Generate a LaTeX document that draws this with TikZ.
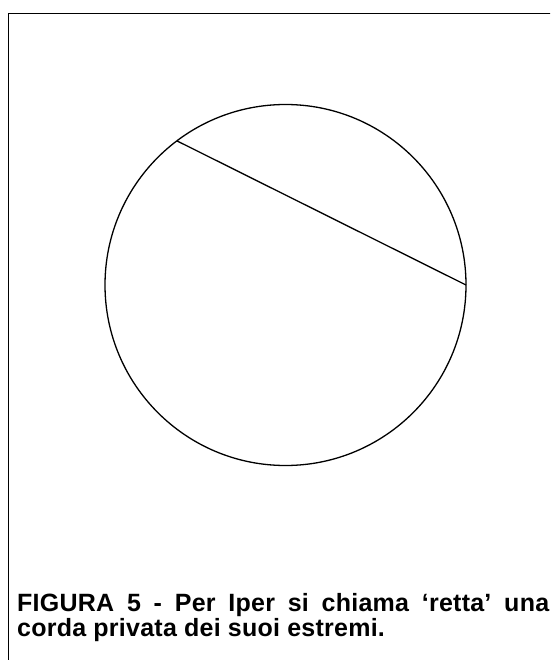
\documentclass[tikz,border=0pt]{standalone}
\usepackage{fontspec}
\setmainfont{Liberation Sans}
\newfontfamily\didfont[LetterSpace=1]{Liberation Sans}
\usepackage{tikz}
\usetikzlibrary{positioning,calc}

\tikzset{
  linea/.style={black,line width=1.3pt},
  didascalia/.style={font=\didfont\fontsize{25}{25}\selectfont\bfseries,inner sep=0pt,anchor=base west}
}

\begin{document}
\begin{tikzpicture}[x=1pt,y=-1pt]
    \useasboundingbox (0,0) rectangle (550,660);
    \begin{scope}
      \clip (0,0) rectangle (550,660);
      \draw[black,line width=1.8pt] (8.5,700)--(8.5,13.5)--(600,13.5);
    \end{scope}
    \node[circle,draw,linea,minimum size=361pt,inner sep=0pt,outer sep=0pt] (cerchio) at (285.5,285){};
    \draw[linea] (cerchio.127)--(cerchio.0);
    \node[didascalia] (riga1) at (17,611){\makebox[532pt][s]{FIGURA 5 - Per Iper si chiama ‘retta’ una}};
    \node[didascalia] (riga2) at (17,636){corda privata dei suoi estremi.};
  \end{tikzpicture}
\end{document}
